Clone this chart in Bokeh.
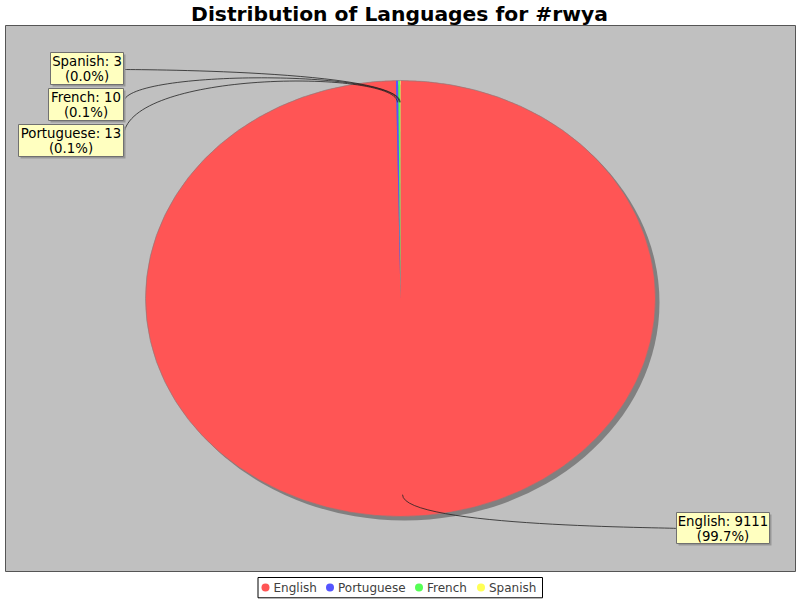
import numpy as np
from bokeh.plotting import figure
from bokeh.models import Range1d
from bokeh.embed import file_html
from bokeh.resources import INLINE
from bokeh.core.properties import value

# ---------------- data ----------------
chart_title = "Distribution of Languages for #rwya"
languages = ["English", "Portuguese", "French", "Spanish"]
counts = [9111, 13, 10, 3]
colors = ["#FF5555", "#5555FF", "#55FF55", "#FFFF55"]

# ---------------- layout (reference pixel space 800x600) ----------------
W, H = 800, 600
CX, CY, RX, RY = 400.0, 298.0, 255.0, 218.0
START_ANGLE = 90.0
FONT = value("DejaVu Sans")

# label boxes: left, right, top, bottom ; y where link meets the box
label_boxes = [
    (676, 769, 512, 543),   # English
    (18, 123, 124, 156),    # Portuguese
    (48, 123, 88, 120),     # French
    (50, 123, 52, 84),      # Spanish
]
label_link_y = [528, 137, 102, 69]

p = figure(width=W, height=H, x_range=Range1d(0, 800), y_range=Range1d(600, 0),
           output_backend="svg", toolbar_location=None, min_border=0,
           x_axis_location=None, y_axis_location=None, outline_line_color=None,
           background_fill_color="white", border_fill_color="white")
p.grid.visible = False

# plot area
p.quad(left=[5], right=[795], top=[25], bottom=[571],
       fill_color="#C0C0C0", line_color="#555555", line_width=1)

# pie shadow
p.ellipse(x=[CX + 4], y=[CY + 4], width=[2 * RX], height=[2 * RY],
          fill_color="#808080", line_color=None)

# pie slices (clockwise from the top)
total = float(sum(counts))
xs, ys, mids = [], [], []
a0 = START_ANGLE
for c in counts:
    sweep = 360.0 * c / total
    a1 = a0 - sweep
    n = max(3, int(sweep * 3) + 3)
    t = np.radians(np.linspace(a0, a1, n))
    xs.append([CX] + list(CX + RX * np.cos(t)))
    ys.append([CY] + list(CY - RY * np.sin(t)))
    mids.append(np.radians((a0 + a1) / 2))
    a0 = a1
p.patches(xs, ys, fill_color=colors, line_color=None)
# pie outline
p.ellipse(x=[CX], y=[CY], width=[2 * RX], height=[2 * RY],
          fill_color=None, line_color="#808080", line_width=0.6)

# label links (cubic curves)
lx0, ly0, lx1, ly1, lcx0, lcy0, lcx1, lcy1 = [], [], [], [], [], [], [], []
for m, box, yl in zip(mids, label_boxes, label_link_y):
    px = CX + 0.9 * RX * np.cos(m)
    py = CY - 0.9 * RY * np.sin(m)
    ey = CY - 1.05 * RY * np.sin(m)
    tx = box[0] if np.cos(m) > 0 else box[1]
    lx0.append(px); ly0.append(py)
    lcx0.append(px); lcy0.append(ey)
    lcx1.append(tx); lcy1.append(ey)
    lx1.append(tx); ly1.append(yl)
p.bezier(x0=lx0, y0=ly0, x1=lx1, y1=ly1, cx0=lcx0, cy0=lcy0, cx1=lcx1, cy1=lcy1,
         line_color="#222222", line_width=0.8)

# label boxes
L = [b[0] for b in label_boxes]; R = [b[1] for b in label_boxes]
T = [b[2] for b in label_boxes]; B = [b[3] for b in label_boxes]
p.quad(left=[v + 2 for v in L], right=[v + 2 for v in R],
       top=[v + 2 for v in T], bottom=[v + 2 for v in B],
       fill_color="#979797", line_color=None)
p.quad(left=L, right=R, top=T, bottom=B,
       fill_color="#FFFFC0", line_color="#707070", line_width=1)
label_texts = [f"{n}: {c}\n({100.0 * c / total:.1f}%)" for n, c in zip(languages, counts)]
p.text(x=[(l + r) / 2 for l, r in zip(L, R)], y=[(t + b) / 2 + 0.5 for t, b in zip(T, B)],
       text=label_texts, text_align="center", text_baseline="middle",
       text_font=FONT, text_font_size="13.3px", text_color="black",
       text_line_height=1.0)

# title
p.text(x=[399], y=[13], text=[chart_title], text_align="center",
       text_baseline="middle", text_font=FONT, text_font_style="bold",
       text_font_size="20.3px", text_color="black")

# legend
p.quad(left=[257.5], right=[542], top=[577], bottom=[597.3],
       fill_color="white", line_color="black", line_width=1)
legend_marker_x = [265.0, 329.5, 418.5, 480.5]
legend_text_x = [273.0, 337.5, 426.5, 488.5]
p.scatter(x=legend_marker_x, y=[587] * 4, size=8, fill_color=colors, line_color=None)
p.text(x=legend_text_x, y=[587.5] * 4, text=languages, text_align="left",
       text_baseline="middle", text_font=FONT, text_font_size="12px",
       text_color="#404040")

open("out.html", "w").write(file_html(p, INLINE))
